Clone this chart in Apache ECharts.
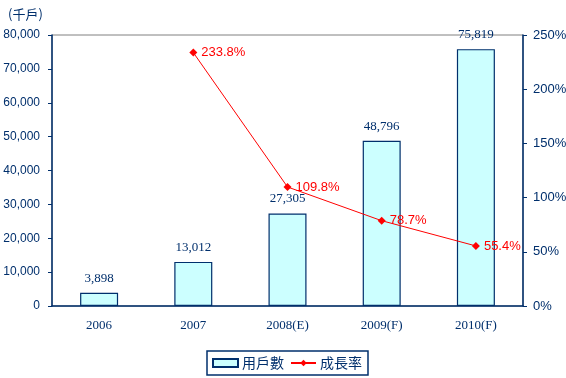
<!DOCTYPE html>
<html><head><meta charset="utf-8">
<script src="https://cdn.jsdelivr.net/npm/echarts@6/dist/echarts.min.js"></script>
<style>html,body{margin:0;padding:0;background:#fff}#c{width:566px;height:378px}</style>
</head><body><div id="c"></div>
<script>
var categories = ['2006', '2007', '2008(E)', '2009(F)', '2010(F)'];
var users = [3898, 13012, 27305, 48796, 75819];
var growth = [null, 233.8, 109.8, 78.7, 55.4];
var leftTicks = [0, 10000, 20000, 30000, 40000, 50000, 60000, 70000, 80000];
var rightTicks = [0, 50, 100, 150, 200, 250];

var navy = '#002f6c';
var chart = echarts.init(document.getElementById('c'), null, {renderer: 'canvas'});
function fmt(v){ return v.toLocaleString('en-US'); }
chart.setOption({
  animation: false,
  textStyle: {fontFamily: 'Liberation Sans'},
  title: {text: '(千戶)', left: 3, top: 3, textStyle: {color: navy, fontSize: 13, fontWeight: 'normal', fontFamily: 'Noto Sans CJK TC'}},
  grid: {left: 52, right: 43, top: 35, bottom: 72, outerBoundsMode: 'none', containLabel: false, show: true, borderColor: '#808080', borderWidth: 1, backgroundColor: 'transparent'},
  legend: {
    bottom: 3, left: 207, itemGap: 6, padding: [5, 6, 5, 5],
    borderColor: navy, borderWidth: 1.5,
    itemWidth: 25, itemHeight: 8,
    textStyle: {color: navy, fontSize: 14, fontFamily: 'Noto Sans CJK TC', padding: [0, 0, 0, -1]},
    data: [{name: '用戶數', icon: 'rect'}, {name: '成長率'}]
  },
  xAxis: {
    type: 'category', data: categories,
    axisLine: {lineStyle: {color: navy, width: 1.5}},
    axisTick: {inside: true, length: 5, lineStyle: {color: navy}},
    axisLabel: {color: navy, fontSize: 13, fontFamily: 'Liberation Serif', margin: 13}
  },
  yAxis: [{
    type: 'value', min: 0, max: 80000, interval: 10000,
    axisLine: {show: true, lineStyle: {color: navy, width: 1.5}},
    axisTick: {show: true, length: 4, lineStyle: {color: navy}},
    splitLine: {show: false},
    axisLabel: {color: navy, fontSize: 12, margin: 12, formatter: function(v){ return fmt(v); }}
  }, {
    type: 'value', min: 0, max: 250, interval: 50, position: 'right',
    axisLine: {show: true, lineStyle: {color: navy, width: 1.5}},
    axisTick: {show: true, length: 4, lineStyle: {color: navy}},
    splitLine: {show: false},
    axisLabel: {color: navy, fontSize: 13, margin: 10, formatter: '{value}%'}
  }],
  series: [{
    name: '用戶數', type: 'bar', data: users, barWidth: 38,
    itemStyle: {color: '#ccffff', borderColor: navy, borderWidth: 1.2},
    label: {show: true, position: 'top', distance: 8, color: navy, fontSize: 13, fontFamily: 'Liberation Serif', formatter: function(p){ return fmt(p.value); }}
  }, {
    name: '成長率', type: 'line', yAxisIndex: 1, data: growth,
    symbol: 'diamond', symbolSize: 8, connectNulls: false,
    lineStyle: {color: '#ff0000', width: 1},
    itemStyle: {color: '#ff0000'},
    label: {show: true, position: 'right', distance: 4, color: '#ff0000', fontSize: 13, formatter: function(p){ return p.value.toFixed(1) + '%'; }}
  }]
});
</script></body></html>
